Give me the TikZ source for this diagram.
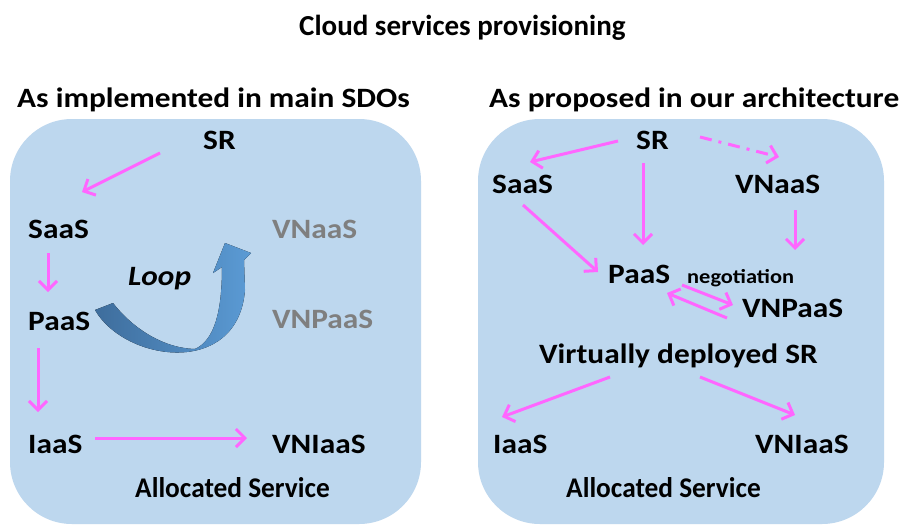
\documentclass[tikz,border=0pt]{standalone}
\usepackage{fontspec}
\setmainfont{Carlito}[FakeStretch=1.12]
\newfontfamily\plainfont{Carlito}
\newfontfamily\narrowfont{Carlito}[FakeStretch=0.96]
\usetikzlibrary{arrows.meta}
\definecolor{boxblue}{HTML}{BDD7EE}
\definecolor{mag}{HTML}{FF66FF}
\definecolor{greytxt}{HTML}{7F7F7F}
\definecolor{loopdark}{HTML}{3E6D9C}
\definecolor{looplight}{HTML}{5B9BD5}
\tikzset{
  lbl/.style={font=\fontsize{28}{33}\selectfont\bfseries, inner sep=0pt, anchor=base west},
  plbl/.style={lbl, font=\narrowfont\fontsize{28.5}{33}\selectfont\bfseries},
  glbl/.style={lbl, text=greytxt},
  panel/.style={fill=boxblue, draw=none, rounded corners=62pt},
  conn/.style={draw=mag, line width=3pt, -{Straight Barb[length=9pt,width=18pt,line width=3pt]}},
  dconn/.style={conn, dash pattern=on 12pt off 7pt on 3pt off 7pt},
}
\begin{document}
\begin{tikzpicture}[x=1pt,y=-1pt]
\useasboundingbox (0,0) rectangle (899,525);
\fill[white] (0,0) rectangle (899,525);
% panels
\path[panel] (10,119) rectangle (421,524);
\path[panel] (478,119) rectangle (884,524);
% titles
\node[lbl, font=\plainfont\fontsize{29}{34}\selectfont\bfseries] (title) at (299,35) {Cloud services provisioning};
\node[lbl] (hl) at (17,107) {As implemented in main SDOs};
\node[lbl] (hr) at (489,107) {As proposed in our architecture};
% left panel
\node[lbl] (lsr) at (203,149) {SR};
\node[lbl] (lsaas) at (28,238) {SaaS};
\node[glbl] (lvnaas) at (272,238) {VNaaS};
\node[lbl] (lpaas) at (28,330) {PaaS};
\node[glbl] (lvnpaas) at (272,328) {VNPaaS};
\node[lbl, font=\fontsize{28}{33}\selectfont\bfseries\itshape] (loop) at (128,285) {Loop};
\node[lbl] (liaas) at (28,453) {IaaS};
\node[lbl] (lvniaas) at (272,453) {VNIaaS};
\node[plbl] (lalloc) at (135,497) {Allocated Service};
% loop arrow
\fill[left color=loopdark, right color=looplight]
  (95,310) .. controls (125,362) and (238,378) .. (245,290)
  -- (244,260) -- (251,253) -- (225,243) -- (213,273) -- (222,267)
  .. controls (222,310) and (215,340) .. (195,349)
  .. controls (160,348) and (130,325) .. (113,303) -- cycle;
% left connectors
\coordinate (a1s) at (160,153); \coordinate (a1e) at (82,192);
\draw[conn] (a1s) -- (a1e);
\coordinate (a2s) at (48,253); \coordinate (a2e) at (48,292);
\draw[conn] (a2s) -- (a2e);
\coordinate (a3s) at (38,348); \coordinate (a3e) at (38,412);
\draw[conn] (a3s) -- (a3e);
\coordinate (a4s) at (95,438); \coordinate (a4e) at (247,438);
\draw[conn] (a4s) -- (a4e);
% right panel
\node[lbl] (rsr) at (636,149) {SR};
\node[lbl] (rsaas) at (492,193) {SaaS};
\node[lbl] (rvnaas) at (735,193) {VNaaS};
\node[lbl] (rpaas) at (608,283) {PaaS};
\node[lbl, font=\fontsize{20}{24}\selectfont\bfseries] (neg) at (687,283) {negotiation};
\node[lbl] (rvnpaas) at (742,317) {VNPaaS};
\node[lbl] (vds) at (539,363) {Virtually deployed SR};
\node[lbl] (riaas) at (493,453) {IaaS};
\node[lbl] (rvniaas) at (755,453) {VNIaaS};
\node[plbl] (ralloc) at (566,497) {Allocated Service};
% right connectors
\coordinate (b1s) at (618,141); \coordinate (b1e) at (530,162);
\draw[conn] (b1s) -- (b1e);
\coordinate (b2s) at (643,163); \coordinate (b2e) at (643,245);
\draw[conn] (b2s) -- (b2e);
\coordinate (b3s) at (700,137); \coordinate (b3e) at (779,157);
\draw[dconn] (b3s) -- (b3e);
\coordinate (b4s) at (523,205); \coordinate (b4e) at (598,272);
\draw[conn] (b4s) -- (b4e);
\coordinate (b5s) at (795,210); \coordinate (b5e) at (795,250);
\draw[conn] (b5s) -- (b5e);
\coordinate (b6s) at (682,285); \coordinate (b6e) at (733,305);
\draw[conn] (b6s) -- (b6e);
\coordinate (b7s) at (727,318); \coordinate (b7e) at (667,293);
\draw[conn] (b7s) -- (b7e);
\coordinate (b8s) at (610,377); \coordinate (b8e) at (502,417);
\draw[conn] (b8s) -- (b8e);
\coordinate (b9s) at (700,377); \coordinate (b9e) at (795,415);
\draw[conn] (b9s) -- (b9e);
\end{tikzpicture}
\end{document}
